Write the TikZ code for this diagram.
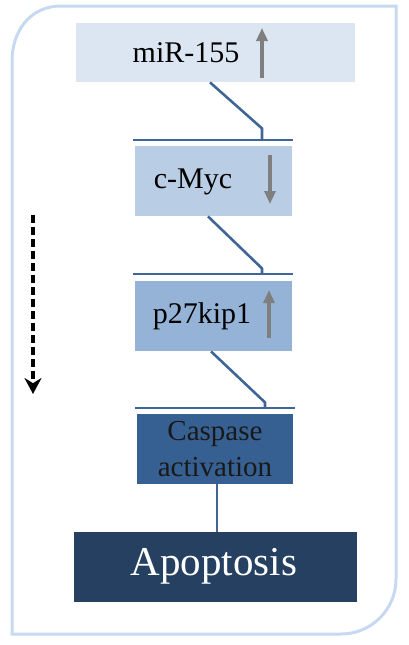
\documentclass[tikz,border=0pt]{standalone}
\usepackage{fontspec}
\setmainfont{Liberation Serif}
\usetikzlibrary{arrows.meta}
\definecolor{frameblue}{HTML}{C6D9F1}
\definecolor{linkblue}{HTML}{3F6696}
\definecolor{boxA}{HTML}{DCE6F2}
\definecolor{boxB}{HTML}{B9CDE5}
\definecolor{boxC}{HTML}{95B3D7}
\definecolor{boxD}{HTML}{376092}
\definecolor{boxE}{HTML}{254061}
\definecolor{arrowgray}{HTML}{7F7F7F}
\tikzset{
  box/.style={draw=none, anchor=north west, inner sep=0pt},
  lbl/.style={inner sep=0pt, font=\fontsize{30}{32}\selectfont},
  link/.style={draw=linkblue, line width=2.6pt},
  trend/.style={draw=arrowgray, line width=3.6pt, -{Triangle[width=11pt,length=13pt]}},
}
\begin{document}
\begin{tikzpicture}[x=1pt,y=-1pt]
\useasboundingbox (0,0) rectangle (408,645);
% frame
\draw[frameblue, line width=3pt]
  (12,634) -- (12,61) .. controls (12,30.6) and (30.6,6) .. (61,6)
  -- (396,6) -- (396,579) .. controls (396,609.4) and (371.4,634) .. (341,634) -- cycle;
% boxes
\node[box, fill=boxA, minimum width=279pt, minimum height=59pt] (mir) at (76,23) {};
\node[box, fill=boxB, minimum width=157pt, minimum height=70pt] (myc) at (135,146) {};
\node[box, fill=boxC, minimum width=157pt, minimum height=70pt] (p27) at (135,281) {};
\node[box, fill=boxD, minimum width=156pt, minimum height=70pt] (casp) at (137,414) {};
\node[box, fill=boxE, minimum width=283pt, minimum height=70pt] (apo) at (74,532) {};
% labels
\node[lbl] (mirt) at (186,53) {miR-155};
\node[lbl] (myct) at (193,182) {c-Myc};
\node[lbl] (p27t) at (202,316) {p27kip1};
\node[lbl, align=center, text=black!90, font=\fontsize{29}{36}\selectfont] (caspt) at (215,449) {Caspase\\activation};
\node[inner sep=0pt, text=white, font=\fontsize{41}{44}\selectfont] (apot) at (214,566) {Apoptosis};
% trend arrows
\draw[trend] (262,78) -- (262,28);
\draw[trend] (270,155) -- (270,204);
\draw[trend] (269,338) -- (269,290);
% bars
\coordinate (b1l) at (133,140); \coordinate (b1r) at (293,140); \coordinate (b1m) at (262,140);
\coordinate (b2l) at (133,274); \coordinate (b2r) at (293,274); \coordinate (b2m) at (262,274);
\coordinate (b3l) at (135,408); \coordinate (b3r) at (295,408); \coordinate (b3m) at (265,408);
\draw[link] (b1l) -- (b1r);
\draw[link] (b2l) -- (b2r);
\draw[link] (b3l) -- (b3r);
% connectors
\draw[link] (mir.south west) ++(134,0) -- ++(52,46) -- (b1m);
\draw[link] (myc.south west) ++(73,0) -- ++(54,52) -- (b2m);
\draw[link] (p27.south west) ++(76,0) -- ++(54,51) -- (b3m);
\draw[link] (casp.south west) ++(80,0) -- (apo.north west -| 217,0);
% dashed timeline arrow
\coordinate (ts) at (33,215);
\coordinate (te) at (33,394);
\draw[black, line width=4pt, dash pattern=on 8pt off 4pt, -{Stealth[length=16pt,width=17pt]}] (ts) -- (te);
\end{tikzpicture}
\end{document}
